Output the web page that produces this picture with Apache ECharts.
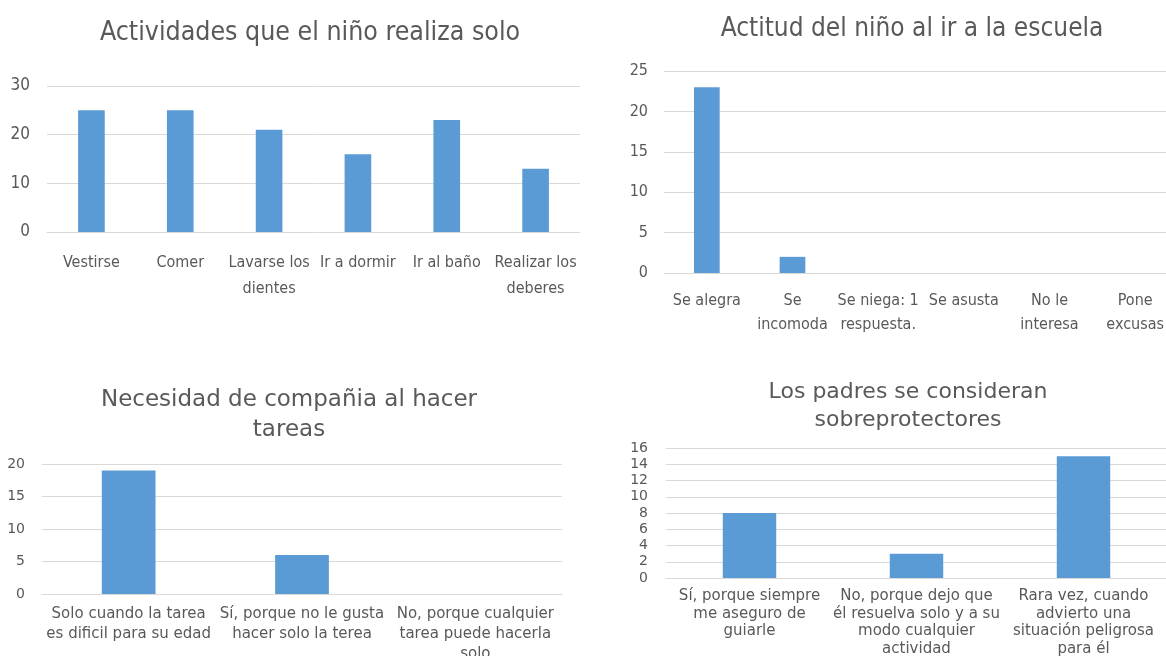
<!DOCTYPE html>
<html>
<head>
<meta charset="utf-8">
<script src="https://cdn.jsdelivr.net/npm/echarts@6/dist/echarts.min.js"></script>
<style>
  html, body { margin: 0; padding: 0; background: #fff; }
  #chart { width: 1166px; height: 656px; }
</style>
</head>
<body>
<div id="chart"></div>
<script>
// Actividades que el niño realiza solo
const actividades = ['Vestirse', 'Comer', 'Lavarse los\ndientes', 'Ir a dormir', 'Ir al baño', 'Realizar los\ndeberes']
const actividadesVal = [25, 25, 21, 16, 23, 13]

// Actitud del niño al ir a la escuela
const actitud = ['Se alegra', 'Se\nincomoda', 'Se niega: 1\nrespuesta.', 'Se asusta', 'No le\ninteresa', 'Pone\nexcusas']
const actitudVal = [23, 2, 0, 0, 0, 0]

// Necesidad de compañia al hacer tareas
const compania = ['Solo cuando la tarea\nes dificil para su edad', 'Sí, porque no le gusta\nhacer solo la terea', 'No, porque cualquier\ntarea puede hacerla\nsolo']
const companiaVal = [19, 6, 0]

// Los padres se consideran sobreprotectores
const padres = ['Sí, porque siempre\nme aseguro de\nguiarle', 'No, porque dejo que\nél resuelva solo y a su\nmodo cualquier\nactividad', 'Rara vez, cuando\nadvierto una\nsituación peligrosa\npara él']
const padresVal = [8, 3, 15]

const narrow = '"Liberation Sans Narrow", "DejaVu Sans Condensed", sans-serif'
const wide = '"DejaVu Sans", "Open Sans", sans-serif'
const textColor = '#595959'
const gridColor = '#d9d9d9'
const barColor = '#5b9bd5'

function xAxis(i, data, font, size, lh, margin) {
  return {
    type: 'category', gridIndex: i, data: data,
    axisTick: { show: false },
    axisLine: { lineStyle: { color: gridColor } },
    axisLabel: { interval: 0, color: textColor, fontFamily: font, fontSize: size, lineHeight: lh, margin: margin }
  }
}

function yAxis(i, max, step, font, size, margin) {
  return {
    type: 'value', gridIndex: i, min: 0, max: max, interval: step,
    axisLine: { show: false }, axisTick: { show: false },
    splitLine: { lineStyle: { color: gridColor } },
    axisLabel: { color: textColor, fontFamily: font, fontSize: size, margin: margin }
  }
}

function title(text, x, y, font, size, lh) {
  return {
    text: text, left: x, top: y, textAlign: 'center',
    textStyle: { color: textColor, fontFamily: font, fontSize: size, fontWeight: 'normal', lineHeight: lh }
  }
}

const chart = echarts.init(document.getElementById('chart'))
chart.setOption({
  animation: false,
  title: [
    title('Actividades que el niño realiza solo', 305, 12, narrow, 26.5, 32),
    title('Actitud del niño al ir a la escuela', 907, 9, narrow, 26, 30),
    title('Necesidad de compañia al hacer\ntareas', 284, 380, wide, 23, 30),
    title('Los padres se consideran\nsobreprotectores', 903, 373, wide, 22, 28)
  ],
  grid: [
    { left: 47, top: 86, width: 533, height: 146, outerBoundsMode: 'none' },
    { left: 664, top: 71, width: 514, height: 202, outerBoundsMode: 'none' },
    { left: 42, top: 464, width: 520, height: 130, outerBoundsMode: 'none' },
    { left: 666, top: 448, width: 501, height: 130, outerBoundsMode: 'none' }
  ],
  xAxis: [
    xAxis(0, actividades, narrow, 16, 26, 18),
    xAxis(1, actitud, narrow, 16, 24, 16),
    xAxis(2, compania, wide, 15, 20, 10),
    xAxis(3, padres, wide, 15, 17.8, 9)
  ],
  yAxis: [
    yAxis(0, 30, 10, narrow, 17, 17),
    yAxis(1, 25, 5, narrow, 16, 16),
    yAxis(2, 20, 5, wide, 14, 17),
    yAxis(3, 16, 2, wide, 14, 18)
  ],
  series: [
    { type: 'bar', xAxisIndex: 0, yAxisIndex: 0, data: actividadesVal, barWidth: '30%', itemStyle: { color: barColor } },
    { type: 'bar', xAxisIndex: 1, yAxisIndex: 1, data: actitudVal, barWidth: '30%', itemStyle: { color: barColor } },
    { type: 'bar', xAxisIndex: 2, yAxisIndex: 2, data: companiaVal, barWidth: '31%', itemStyle: { color: barColor } },
    { type: 'bar', xAxisIndex: 3, yAxisIndex: 3, data: padresVal, barWidth: '32%', itemStyle: { color: barColor } }
  ]
})
</script>
</body>
</html>
